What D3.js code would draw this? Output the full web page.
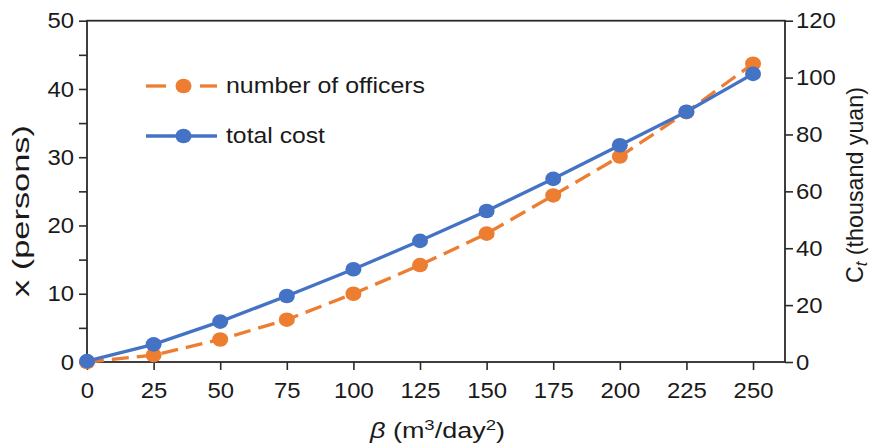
<!DOCTYPE html>
<html><head><meta charset="utf-8">
<script src="https://cdn.jsdelivr.net/npm/d3@7"></script>
<style>
body{margin:0;background:#fff;}
text{font-family:"Liberation Sans",Arial,sans-serif;fill:#1a1a1a;}
</style></head>
<body><svg id="c" width="873" height="446"></svg>
<script>
const beta = [0,25,50,75,100,125,150,175,200,225,250];
const officers = [0,1.0,3.3,6.2,10.0,14.2,18.8,24.4,30.1,36.6,43.7];
const totalCost = [0.3,6.2,14.2,23.2,32.6,42.6,53.1,64.4,76.2,88.0,101.3];
const xTicks = [0,25,50,75,100,125,150,175,200,225,250];
const yLeftTicks = [0,5,10,15,20,25,30,35,40,45,50];
const yRightTicks = [0,20,40,60,80,100,120];
const seriesNames = ["number of officers","total cost"];

const svg = d3.select("#c");
const L=87, R=785, T=20.7, B=362;
const x = d3.scaleLinear().domain([0,262]).range([L,R]);
const yL = d3.scaleLinear().domain([0,50]).range([B,T]);
const yR = d3.scaleLinear().domain([0,120]).range([B,T]);
const axisColor="#2a2a2a", orange="#ED7D31", blue="#4472C4";
const digitW = 13.3;

function styleAxis(g){
  g.select(".domain").remove();
  g.selectAll(".tick line").attr("stroke",axisColor).attr("stroke-width",1.6);
  g.selectAll(".tick text").attr("font-size",22).attr("fill","#1a1a1a")
    .attr("lengthAdjust","spacingAndGlyphs")
    .each(function(){ const t=d3.select(this).text(); if(t) d3.select(this).attr("textLength",t.length*digitW); });
}

// x axis
svg.append("g").attr("transform",`translate(0,${B})`)
  .call(d3.axisBottom(x).tickValues(xTicks).tickSize(8).tickPadding(6))
  .call(styleAxis)
  .selectAll(".tick text").attr("dy","1.0em");
// left axis
svg.append("g").attr("transform",`translate(${L},0)`)
  .call(d3.axisLeft(yL).tickValues(yLeftTicks).tickSize(8).tickPadding(5)
    .tickFormat(d=> d%10===0 ? d : ""))
  .call(styleAxis);
// right axis
svg.append("g").attr("transform",`translate(${R},0)`)
  .call(d3.axisRight(yR).tickValues(yRightTicks).tickSize(8).tickPadding(3))
  .call(styleAxis);

// frame
svg.append("rect").attr("x",L).attr("y",T).attr("width",R-L).attr("height",B-T)
  .attr("fill","none").attr("stroke",axisColor).attr("stroke-width",1.8);

// lines
const data = beta.map((b,i)=>({b, o:officers[i], c:totalCost[i]}));
svg.append("path").datum(data)
  .attr("d", d3.line().x(d=>x(d.b)).y(d=>yL(d.o)))
  .attr("fill","none").attr("stroke",orange).attr("stroke-width",3.3).attr("stroke-dasharray","17,8");
svg.append("path").datum(data)
  .attr("d", d3.line().x(d=>x(d.b)).y(d=>yR(d.c)))
  .attr("fill","none").attr("stroke",blue).attr("stroke-width",3.3);
svg.append("g").selectAll("ellipse").data(data).join("ellipse")
  .attr("cx",d=>x(d.b)).attr("cy",d=>yL(d.o)).attr("rx",8).attr("ry",7.3).attr("fill",orange);
svg.append("g").selectAll("ellipse").data(data).join("ellipse")
  .attr("cx",d=>x(d.b)).attr("cy",d=>yR(d.c)).attr("rx",8).attr("ry",7.3).attr("fill",blue);

// legend
const lg = svg.append("g");
const legY = [86,136];
[[146,166],[200,217]].forEach(s=>{
  lg.append("line").attr("x1",s[0]).attr("x2",s[1]).attr("y1",legY[0]).attr("y2",legY[0])
    .attr("stroke",orange).attr("stroke-width",3.3);
});
lg.append("ellipse").attr("cx",183.5).attr("cy",legY[0]).attr("rx",8).attr("ry",7.3).attr("fill",orange);
lg.append("line").attr("x1",146).attr("x2",217).attr("y1",legY[1]).attr("y2",legY[1])
  .attr("stroke",blue).attr("stroke-width",3.3);
lg.append("ellipse").attr("cx",183.5).attr("cy",legY[1]).attr("rx",8).attr("ry",7.3).attr("fill",blue);
lg.append("text").attr("x",226).attr("y",92.5).attr("font-size",21.5)
  .attr("textLength",199).attr("lengthAdjust","spacingAndGlyphs").text(seriesNames[0]);
lg.append("text").attr("x",226).attr("y",142.5).attr("font-size",21.5)
  .attr("textLength",99).attr("lengthAdjust","spacingAndGlyphs").text(seriesNames[1]);

// axis titles
const xt = svg.append("text").attr("x",437.5).attr("y",438).attr("text-anchor","middle")
  .attr("font-size",22.5).attr("textLength",135).attr("lengthAdjust","spacingAndGlyphs");
xt.append("tspan").attr("font-style","italic").text("β");
xt.append("tspan").text(" (m");
xt.append("tspan").attr("font-size",15.5).attr("dy",-8).text("3");
xt.append("tspan").attr("dy",8).text("/day");
xt.append("tspan").attr("font-size",15.5).attr("dy",-8).text("2");
xt.append("tspan").attr("dy",8).text(")");

svg.append("text").attr("transform","translate(29,211) rotate(-90)").attr("text-anchor","middle")
  .attr("font-size",24).attr("textLength",172).attr("lengthAdjust","spacingAndGlyphs")
  .text("x (persons)");

const rt = svg.append("text").attr("transform","translate(863,185) rotate(-90)").attr("text-anchor","middle")
  .attr("font-size",24).attr("textLength",196).attr("lengthAdjust","spacingAndGlyphs");
rt.append("tspan").text("C");
rt.append("tspan").attr("font-style","italic").attr("font-size",17).attr("dy",4).text("t");
rt.append("tspan").attr("dy",-4).text(" (thousand yuan)");
</script></body></html>
